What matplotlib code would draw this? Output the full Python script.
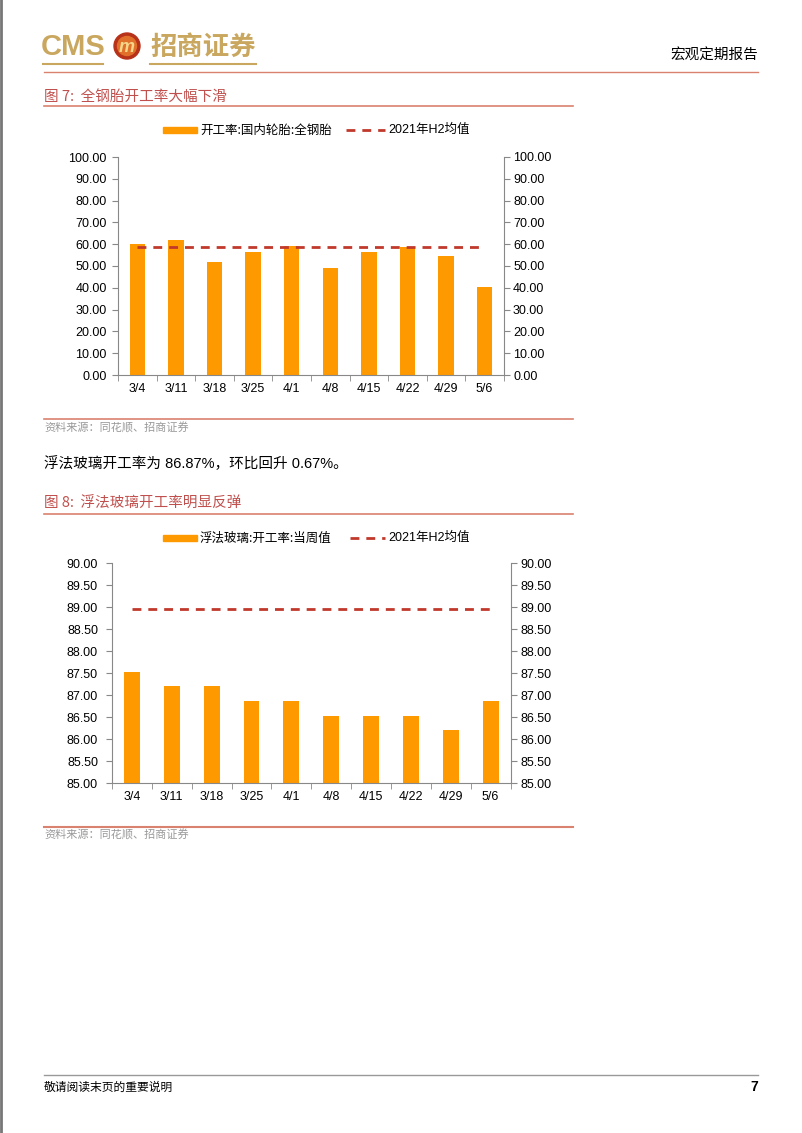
import matplotlib
matplotlib.use('Agg')
import matplotlib.pyplot as plt
from matplotlib.patches import Circle, Rectangle
from matplotlib.ticker import FormatStrFormatter, FixedLocator

plt.rcParams['font.family'] = ['Liberation Sans', 'Noto Sans CJK SC', 'DejaVu Sans']

# Data
dates = ['3/4', '3/11', '3/18', '3/25', '4/1', '4/8', '4/15', '4/22', '4/29', '5/6']
steel_tire_rate = [60.3, 62.0, 51.8, 56.4, 59.1, 49.3, 56.5, 58.9, 54.8, 40.2]
steel_tire_h2_avg = 58.5
float_glass_rate = [87.53, 87.20, 87.20, 86.87, 86.87, 86.53, 86.53, 86.53, 86.20, 86.87]
float_glass_h2_avg = 88.95

W, H = 802, 1133
ORANGE = '#ff9900'
DASH_RED = '#c0392b'
TITLE_RED = '#c0504d'
RULE = '#d9826f'
GOLD = '#c9a75e'
CJK = ['Noto Sans CJK SC', 'DejaVu Sans']

fig = plt.figure(figsize=(W / 100, H / 100), dpi=100)

# page overlay in pixel coordinates
page = fig.add_axes([0, 0, 1, 1])
page.set_xlim(0, W)
page.set_ylim(H, 0)
page.axis('off')
page.patch.set_alpha(0)

# left page edge
page.plot([1, 1], [0, H], color='#777777', lw=2)

# header logo
page.text(41, 47, 'CMS', fontsize=21, color=GOLD, fontweight='bold', va='center', ha='left')
page.add_patch(Circle((127, 46), 13, color='#b8321a'))
page.add_patch(Circle((127, 46), 9.5, color='#e0702a'))
page.text(127, 47, 'm', fontsize=13, color='#f5d78a', fontweight='bold', style='italic',
          ha='center', va='center')
page.text(150, 47, '招商证券', fontsize=19, color=GOLD, fontweight='bold', va='center',
          ha='left', family=CJK)
page.plot([43, 103], [64, 64], color=GOLD, lw=1.5)
page.plot([150, 256], [64, 64], color=GOLD, lw=1.5)
page.text(758, 56, '宏观定期报告', fontsize=10.5, ha='right', va='center', family=CJK)
page.plot([44, 758], [72, 72], color=RULE, lw=1)

# figure 7 title
page.text(44, 97, '图 7:  全钢胎开工率大幅下滑', fontsize=10.5, color=TITLE_RED, va='center', family=CJK)
page.plot([44, 573], [106, 106], color=RULE, lw=1.2)

# legend 1
page.add_patch(Rectangle((163, 127), 34, 6, color=ORANGE))
page.text(200, 130, '开工率:国内轮胎:全钢胎', fontsize=9, va='center', family=CJK)
page.plot([346, 385], [130, 130], color=DASH_RED, lw=2, ls=(0, (3.2, 2.5)))
page.text(388, 130, '2021年H2均值', fontsize=9, va='center')

# source 1
page.plot([44, 573], [419, 419], color=RULE, lw=1.2)
page.text(44, 428, '资料来源：同花顺、招商证券', fontsize=8, color='#999999', va='center', family=CJK)

# body text
page.text(44, 464, '浮法玻璃开工率为 86.87%，环比回升 0.67%。', fontsize=10.5, va='center')

# figure 8 title
page.text(44, 504, '图 8:  浮法玻璃开工率明显反弹', fontsize=10.5, color=TITLE_RED, va='center', family=CJK)
page.plot([44, 573], [514, 514], color=RULE, lw=1.2)

# legend 2
page.add_patch(Rectangle((163, 535), 34, 6, color=ORANGE))
page.text(200, 538, '浮法玻璃:开工率:当周值', fontsize=9, va='center', family=CJK)
page.plot([350, 385], [538, 538], color=DASH_RED, lw=2, ls=(0, (3.2, 2.5)))
page.text(388, 538, '2021年H2均值', fontsize=9, va='center')

# source 2
page.plot([44, 573], [827, 827], color=RULE, lw=1.5)
page.text(44, 835, '资料来源：同花顺、招商证券', fontsize=8, color='#999999', va='center', family=CJK)

# footer
page.plot([44, 758], [1075, 1075], color='#999999', lw=1)
page.text(44, 1087, '敬请阅读末页的重要说明', fontsize=8.5, va='center', family=CJK)
page.text(758, 1087, '7', fontsize=10, fontweight='bold', ha='right', va='center')


def bar_chart(rect, values, avg, ymin, ymax, step, lpad, rpad):
    ax = fig.add_axes(rect)
    x = list(range(len(values)))
    ax.bar(x, values, width=0.4, color=ORANGE, zorder=2)
    ax.plot([x[0], x[-1]], [avg, avg], color=DASH_RED, lw=2, ls=(0, (3.2, 2.5)), zorder=3)
    ax.set_xlim(-0.5, len(values) - 0.5)
    ax.set_ylim(ymin, ymax)
    ticks = [ymin + i * step for i in range(int(round((ymax - ymin) / step)) + 1)]
    ax.set_yticks(ticks)
    ax.yaxis.set_major_formatter(FormatStrFormatter('%.2f'))
    ax.set_xticks(x)
    ax.set_xticklabels(dates)
    ax.xaxis.set_minor_locator(FixedLocator([i + 0.5 for i in range(-1, len(values))]))
    ax.tick_params(axis='x', which='major', length=0, labelsize=9, pad=6)
    ax.tick_params(axis='x', which='minor', length=4, color='#888888')
    ax.tick_params(axis='y', length=4, color='#888888', labelsize=9, pad=lpad)
    for s in ['top', 'right']:
        ax.spines[s].set_visible(False)
    for s in ['left', 'bottom']:
        ax.spines[s].set_color('#888888')
    ax2 = ax.twinx()
    ax2.set_ylim(ymin, ymax)
    ax2.set_yticks(ticks)
    ax2.yaxis.set_major_formatter(FormatStrFormatter('%.2f'))
    ax2.tick_params(axis='y', length=4, color='#888888', labelsize=9, pad=rpad)
    for s in ['top', 'left', 'bottom']:
        ax2.spines[s].set_visible(False)
    ax2.spines['right'].set_color('#888888')
    return ax


bar_chart([118 / W, 1 - 375 / H, (504 - 118) / W, (375 - 157) / H],
          steel_tire_rate, steel_tire_h2_avg, 0, 100, 10, 4, 2.5)
bar_chart([112 / W, 1 - 783 / H, (510.5 - 112) / W, (783 - 563) / H],
          float_glass_rate, float_glass_h2_avg, 85, 90, 0.5, 6, 3)

fig.savefig('out.png', dpi=100)
